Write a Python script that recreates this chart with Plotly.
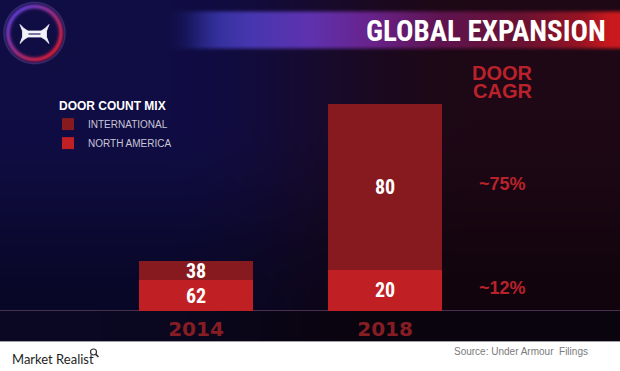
import base64
import struct
import subprocess
import zlib

import numpy as np
import plotly.graph_objects as go

# ---------------- data ----------------
years = ["2014", "2018"]
north_america_pct = [62, 20]
international_pct = [38, 80]
door_index = [100, 414]          # relative total door count (2014 = 100)
cagr_international = "~75%"
cagr_north_america = "~12%"
title_text = "GLOBAL EXPANSION"
legend_title = "DOOR COUNT MIX"
source_text = "Source: Under Armour  Filings"

na_height = [t * p / 100 for t, p in zip(door_index, north_america_pct)]
int_height = [t * p / 100 for t, p in zip(door_index, international_pct)]

# ---------------- font choice ----------------
try:
    fams = subprocess.run(["fc-list", ":", "family"], capture_output=True, text=True).stdout
except Exception:
    fams = ""
if "Roboto Condensed" in fams:
    COND, TITLE_SIZE, NUM_SIZE = "Roboto Condensed", 29, 20
elif "Liberation Sans Narrow" in fams:
    COND, TITLE_SIZE, NUM_SIZE = "Liberation Sans Narrow", 29, 20
else:
    COND, TITLE_SIZE, NUM_SIZE = "DejaVu Sans Condensed", 24, 18
NUM_FONT = COND + ", DejaVu Sans Condensed, sans-serif"

# ---------------- geometry helpers ----------------
W, H = 620, 371
PLOT_BOTTOM = 311  # px of the baseline


def xp(px):
    return px / W


def yp(py):
    return (PLOT_BOTTOM - py) / PLOT_BOTTOM


# ---------------- background picture (slide) ----------------
BW, BH = 620, 342
X, Y = np.meshgrid(np.arange(BW) + 0.5, np.arange(BH) + 0.5)


def smooth(a, b, v):
    t = np.clip((v - a) / (b - a), 0, 1)
    return t * t * (3 - 2 * t)


navy = np.array([16, 13, 68], float)
maroon = np.array([30, 8, 22], float)
t = smooth(170, 470, X)[..., None]
img = navy * (1 - t) + maroon * t
img *= (1 - 0.42 * smooth(120, 310, Y))[..., None]

# title banner
sx = [150, 200, 250, 310, 370, 440, 520, 580, 610, 620]
sc = [(20, 20, 90), (45, 45, 150), (70, 55, 175), (95, 50, 175), (105, 35, 140),
      (95, 20, 80), (105, 18, 50), (150, 20, 35), (200, 25, 30), (205, 25, 30)]
band = np.stack([np.interp(X, sx, [c[k] for c in sc]) for k in range(3)], axis=-1)
a = (smooth(160, 225, X) * smooth(8, 15, Y) * (1 - smooth(45, 52, Y)))[..., None]
img = img * (1 - a) + band * a

# logo ring
cx, cy = 34.5, 33.0
r = np.hypot(X - cx, Y - cy)
ang = np.arctan2(Y - cy, X - cx)
w = (0.5 + 0.5 * np.cos(ang - np.pi / 4))[..., None]
ring_col = np.array([210, 30, 60], float) * w + np.array([100, 60, 200], float) * (1 - w)
ra = (np.exp(-((r - 26.5) / 2.6) ** 2) * 0.95)[..., None]
img = img * (1 - ra) + ring_col * ra
ra2 = (np.exp(-((r - 30.5) / 0.8) ** 2) * 0.45)[..., None]
img = img * (1 - ra2) + np.array([90, 80, 160], float) * ra2

# bottom band under the bars
tb = smooth(100, 400, X)[..., None]
band_col = np.array([10, 8, 34], float) * (1 - tb) + np.array([10, 4, 14], float) * tb
mask = (Y > 311)[..., None]
img = np.where(mask, band_col, img)
img[310, :, :] = [72, 48, 78]
img[341, :, :] = [160, 160, 165]

img = np.clip(img, 0, 255).astype(np.uint8)


def to_png_uri(arr):
    h, w_ = arr.shape[:2]
    raw = b"".join(b"\x00" + arr[i].tobytes() for i in range(h))

    def chunk(tag, data):
        return (struct.pack(">I", len(data)) + tag + data
                + struct.pack(">I", zlib.crc32(tag + data) & 0xFFFFFFFF))

    png = (b"\x89PNG\r\n\x1a\n"
           + chunk(b"IHDR", struct.pack(">IIBBBBB", w_, h, 8, 2, 0, 0, 0))
           + chunk(b"IDAT", zlib.compress(raw, 9))
           + chunk(b"IEND", b""))
    return "data:image/png;base64," + base64.b64encode(png).decode()


bg_uri = to_png_uri(img)

# ---------------- figure ----------------
RED_TXT = "#b9222b"
ARIAL = "Liberation Sans, Arial, sans-serif"

fig = go.Figure()
fig.add_trace(go.Bar(
    x=years, y=na_height, name="NORTH AMERICA",
    marker=dict(color="#c01f24", line=dict(width=0)),
    customdata=north_america_pct, texttemplate="%{customdata}",
    textposition="inside", insidetextanchor="middle", constraintext="none", textangle=0,
    textfont=dict(family=NUM_FONT, size=NUM_SIZE, color="white", weight="bold"),
    width=0.603, hoverinfo="skip",
))
fig.add_trace(go.Bar(
    x=years, y=int_height, name="INTERNATIONAL",
    marker=dict(color="#871a1f", line=dict(width=0)),
    customdata=international_pct, texttemplate="%{customdata}",
    textposition="inside", insidetextanchor="middle", constraintext="none", textangle=0,
    textfont=dict(family=NUM_FONT, size=NUM_SIZE, color="white", weight="bold"),
    width=0.603, hoverinfo="skip",
))

annotations = [
    dict(text=title_text, xref="paper", yref="paper", x=xp(608), y=yp(31.5),
         xanchor="right", yanchor="middle", showarrow=False,
         font=dict(family=NUM_FONT, size=TITLE_SIZE, color="white", weight="bold")),
    dict(text="DOOR", xref="x", yref="paper", x=1, xshift=117, y=yp(72),
         xanchor="center", yanchor="middle", showarrow=False, height=17, valign="middle",
         font=dict(family=ARIAL, size=20, color=RED_TXT, weight="bold")),
    dict(text="CAGR", xref="x", yref="paper", x=1, xshift=117, y=yp(91),
         xanchor="center", yanchor="middle", showarrow=False, height=17, valign="middle",
         font=dict(family=ARIAL, size=20, color=RED_TXT, weight="bold")),
    dict(text=cagr_international, xref="x", yref="y", x=1, xshift=117,
         y=na_height[1] + int_height[1] / 2, yshift=3, xanchor="center", yanchor="middle",
         showarrow=False, font=dict(family=ARIAL, size=18, color=RED_TXT, weight="bold")),
    dict(text=cagr_north_america, xref="x", yref="y", x=1, xshift=117,
         y=na_height[1] / 2, yshift=2, xanchor="center", yanchor="middle", showarrow=False,
         font=dict(family=ARIAL, size=18, color=RED_TXT, weight="bold")),
    dict(text="Market Realist", xref="paper", yref="paper", x=xp(10), y=yp(359),
         xanchor="left", yanchor="middle", showarrow=False,
         font=dict(family="Lato, Liberation Sans, sans-serif", size=13, color="#1e1e1e")),
    dict(text=source_text, xref="paper", yref="paper", x=xp(590), y=yp(351),
         xanchor="right", yanchor="middle", showarrow=False,
         font=dict(family=ARIAL, size=10, color="#7a7a7a")),
]


def P(px, py):
    return "{:.5f},{:.5f}".format(xp(px), yp(py))


def poly(points):
    return "M " + " L ".join(P(x, y) for x, y in points) + " Z"


# UA logo as a filled white path
ua_pts = [(20, 24.5), (24, 28.5), (28, 31), (41, 31), (45, 28.5), (49, 24.5),
          (46.5, 31), (46.5, 37), (49, 43.5),
          (45, 39.5), (41, 37), (28, 37), (24, 39.5), (20, 43.5),
          (22.5, 37), (22.5, 31)]

shapes = [
    dict(type="path", xref="paper", yref="paper", path=poly(ua_pts),
         fillcolor="#f2f0f8", line=dict(color="#f2f0f8", width=0.8)),
    dict(type="line", xref="paper", yref="paper",
         x0=xp(28.5), x1=xp(40.5), y0=yp(34), y1=yp(34),
         line=dict(color="#2a2060", width=1.2)),
    # magnifier icon in footer
    dict(type="circle", xref="paper", yref="paper",
         x0=xp(90.5), x1=xp(96.5), y0=yp(355), y1=yp(349),
         line=dict(color="#333333", width=1.2)),
    dict(type="line", xref="paper", yref="paper",
         x0=xp(95.6), y0=yp(354.1), x1=xp(98.5), y1=yp(357),
         line=dict(color="#333333", width=1.6)),
]

fig.update_layout(
    width=W, height=H, autosize=False,
    margin=dict(l=0, r=0, t=0, b=H - PLOT_BOTTOM, pad=0),
    paper_bgcolor="white", plot_bgcolor="rgba(0,0,0,0)",
    barmode="stack", showlegend=True,
    xaxis=dict(type="category", categoryorder="array", categoryarray=years,
               range=[-1.037, 2.243], showgrid=False, zeroline=False, showline=False,
               ticks="", fixedrange=True, ticklabelstandoff=4,
               tickfont=dict(family="DejaVu Sans, sans-serif", size=20, color="#861d24", weight="bold")),
    yaxis=dict(range=[0, 622], visible=False, fixedrange=True),
    legend=dict(
        title=dict(text=legend_title,
                   font=dict(family=ARIAL, size=12, color="white", weight="bold")),
        font=dict(family=ARIAL, size=10, color="#c8c6d6"),
        x=xp(57), y=yp(94), xanchor="left", yanchor="top", indentation=-9,
        bgcolor="rgba(0,0,0,0)", traceorder="reversed", tracegroupgap=0,
    ),
    images=[dict(source=bg_uri, xref="paper", yref="paper", x=0, y=1,
                 sizex=1, sizey=BH / PLOT_BOTTOM, sizing="stretch",
                 xanchor="left", yanchor="top", layer="below")],
    annotations=annotations,
    shapes=shapes,
)

fig.write_html("out.html", config={"displayModeBar": False},
               post_script="document.body.style.margin='0px';")
